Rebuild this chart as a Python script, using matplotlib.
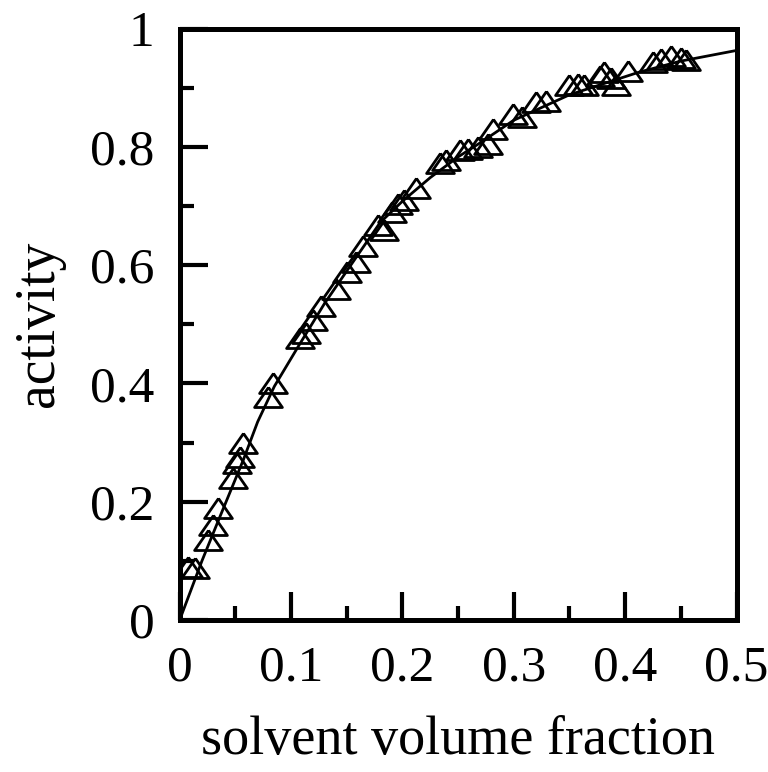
"""Solvent activity vs. solvent volume fraction: measured points and fitted curve."""
import matplotlib
matplotlib.use("Agg")
import matplotlib.pyplot as plt

plt.rcParams["font.family"] = ["Liberation Serif", "DejaVu Serif"]

# measured points (open triangles)
phi_data = [0.007, 0.014, 0.025, 0.030, 0.034, 0.048, 0.051, 0.054, 0.057,
            0.079, 0.084, 0.108, 0.113, 0.120, 0.127, 0.140, 0.150, 0.158,
            0.165, 0.178, 0.183, 0.191, 0.196, 0.201, 0.212, 0.234, 0.239,
            0.252, 0.259, 0.268, 0.277, 0.281, 0.299, 0.307, 0.320, 0.329,
            0.350, 0.358, 0.363, 0.377, 0.381, 0.387, 0.392, 0.403, 0.425,
            0.432, 0.441, 0.450, 0.455]
act_data = [0.090, 0.088, 0.135, 0.160, 0.190, 0.240, 0.265, 0.275, 0.300,
            0.377, 0.400, 0.476, 0.485, 0.508, 0.530, 0.560, 0.588, 0.606,
            0.632, 0.667, 0.660, 0.690, 0.704, 0.710, 0.730, 0.772, 0.777,
            0.794, 0.797, 0.800, 0.804, 0.831, 0.856, 0.850, 0.875, 0.878,
            0.904, 0.907, 0.904, 0.919, 0.926, 0.917, 0.905, 0.929, 0.943,
            0.949, 0.954, 0.951, 0.946]

# fitted curve
phi_fit = [0.0, 0.01, 0.02, 0.036, 0.057, 0.07, 0.085, 0.106, 0.13, 0.15,
           0.18, 0.20, 0.225, 0.25, 0.27, 0.30, 0.35, 0.412, 0.45, 0.5]
act_fit = [0.0, 0.05, 0.10, 0.174, 0.27, 0.335, 0.395, 0.461, 0.535, 0.59,
           0.672, 0.708, 0.748, 0.783, 0.807, 0.845, 0.888, 0.926, 0.945, 0.963]

x_major = [0, 0.1, 0.2, 0.3, 0.4, 0.5]
x_labels = ["0", "0.1", "0.2", "0.3", "0.4", "0.5"]
x_minor = [0.05, 0.15, 0.25, 0.35, 0.45]
y_major = [0, 0.2, 0.4, 0.6, 0.8, 1.0]
y_labels = ["0", "0.2", "0.4", "0.6", "0.8", "1"]
y_minor = [0.1, 0.3, 0.5, 0.7, 0.9]

TRIANGLE = [(0, 0.72), (-1, -0.72), (1, -0.72), (0, 0.72)]

fig = plt.figure(figsize=(7.68, 7.72), dpi=100)
ax = fig.add_axes([0.234, 0.197, 0.725, 0.766])

ax.plot(phi_fit, act_fit, "-", color="black", lw=2.0, zorder=2)
ax.plot(phi_data, act_data, ls="none", marker=TRIANGLE, ms=20, mew=2,
        mfc="none", mec="black", zorder=3)

ax.set_xlim(0, 0.5)
ax.set_ylim(0, 1)
ax.set_xticks(x_major)
ax.set_xticklabels(x_labels)
ax.set_xticks(x_minor, minor=True)
ax.set_yticks(y_major)
ax.set_yticklabels(y_labels)
ax.set_yticks(y_minor, minor=True)

ax.tick_params(which="both", direction="in", width=3, labelsize=37,
               top=False, right=False)
ax.tick_params(which="major", length=20, pad=18)
ax.tick_params(which="minor", length=10)
for spine in ax.spines.values():
    spine.set_linewidth(3.6)

ax.set_xlabel("solvent volume fraction", fontsize=39, labelpad=17)
ax.set_ylabel("activity", fontsize=40, labelpad=18)

fig.savefig("out.png", dpi=100)
